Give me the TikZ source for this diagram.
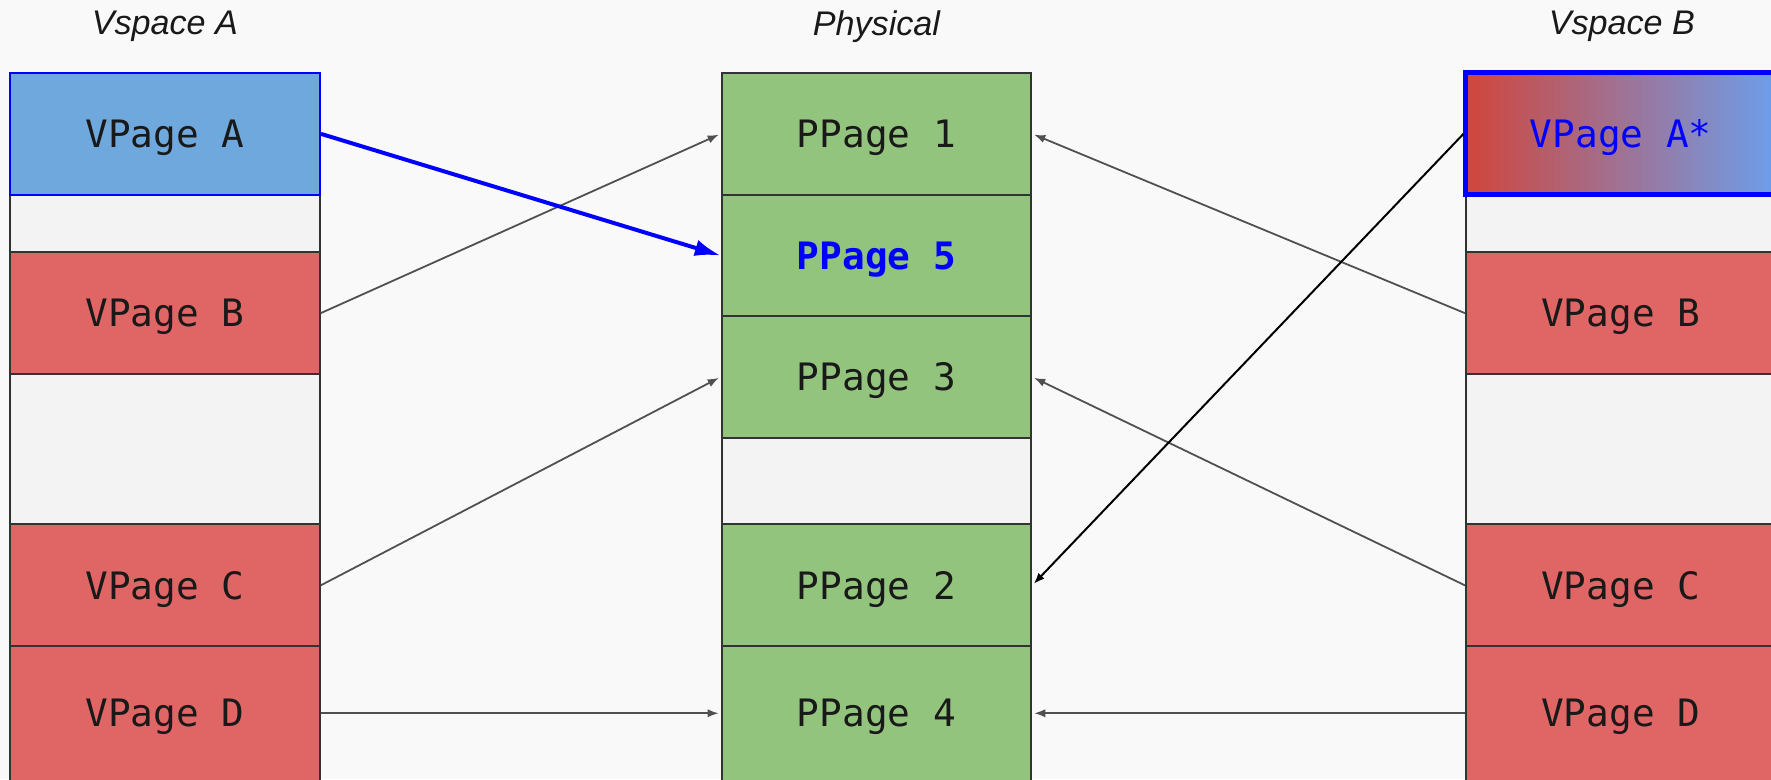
\documentclass[tikz,border=0pt]{standalone}
\usepackage{fontspec}
\setmainfont{Liberation Sans}
\setmonofont{DejaVu Sans Mono}
\usetikzlibrary{arrows.meta}
\definecolor{bgpage}{HTML}{F9F9F9}
\definecolor{freepage}{HTML}{F3F3F3}
\definecolor{vpagered}{HTML}{E06666}
\definecolor{vpageblue}{HTML}{6FA8DC}
\definecolor{ppagegreen}{HTML}{93C47D}
\definecolor{cowred}{HTML}{D0463C}
\definecolor{cowblue}{HTML}{6D9EEB}
\definecolor{maparrow}{HTML}{505050}
\definecolor{cowline}{HTML}{0000FF}
\begin{document}
\begin{tikzpicture}[x=0.01cm, y=-0.01cm, >={Latex[length=2.8pt,width=2.1pt]},
  page/.style={draw=black!80, line width=0.5pt, minimum width=2.74cm, minimum height=1.08cm,
    inner sep=0pt, text height=6.9pt, text depth=0pt,
    font=\fontsize{9.5}{11}\selectfont\ttfamily, text=black!90},
  free/.style={page, fill=freepage},
  vred/.style={page, fill=vpagered},
  ppage/.style={page, fill=ppagegreen},
  map/.style={->, draw=maparrow, line width=0.45pt, shorten >=0.5pt},
  title/.style={font=\fontsize{8.6}{10}\selectfont\itshape, text=black!90}]
  \useasboundingbox (0, 0) rectangle (1568, 690);
  \clip (0, 0) rectangle (1568, 690);
  \fill[bgpage] (0, 0) rectangle (1568, 690);
  % titles
  \node[title] (tA) at (146, 23.5) {Vspace A};
  \node[title] (tP) at (776, 23.5) {Physical};
  \node[title] (tB) at (1436, 23.5) {Vspace B};
  % vspace A
  \node[free, minimum height=0.51cm] (gA1) at (146, 198) {};
  \node[vred] (vB) at (146, 277.25) {VPage B};
  \node[free, minimum height=1.335cm] (gA2) at (146, 397.75) {};
  \node[vred] (vC) at (146, 518.25) {VPage C};
  \node[vred, minimum height=1.19cm] (vD) at (146, 631.5) {VPage D};
  \node[page, fill=vpageblue, draw=cowline, line width=0.6pt] (vA) at (146, 118.5) {VPage A};
  % physical
  \node[ppage] (p1) at (776, 118.5) {PPage 1};
  \node[ppage, text=cowline, font=\fontsize{9.5}{11}\selectfont\ttfamily\bfseries] (p5) at (776, 226.25) {PPage 5};
  \node[ppage] (p3) at (776, 333.75) {PPage 3};
  \node[free, minimum height=0.77cm] (gP) at (776, 426) {};
  \node[ppage] (p2) at (776, 518.25) {PPage 2};
  \node[ppage, minimum height=1.19cm] (p4) at (776, 631.5) {PPage 4};
  % vspace B
  \node[free, minimum height=0.51cm] (gB1) at (1435, 198) {};
  \node[vred] (rB) at (1435, 277.25) {VPage B};
  \node[free, minimum height=1.335cm] (gB2) at (1435, 397.75) {};
  \node[vred] (rC) at (1435, 518.25) {VPage C};
  \node[vred, minimum height=1.19cm] (rD) at (1435, 631.5) {VPage D};
  \node[page, left color=cowred, right color=cowblue, draw=cowline, line width=1.25pt, text=cowline] (rA) at (1435, 118.5) {VPage A*};
  % mappings
  \draw[map] (vB.east) -- (p1.west);
  \draw[map] (vC.east) -- (p3.west);
  \draw[map] (vD.east) -- (p4.west);
  \draw[map] (rB.west) -- (p1.east);
  \draw[map] (rC.west) -- (p3.east);
  \draw[map] (rD.west) -- (p4.east);
  \draw[->, black, line width=0.5pt, shorten >=0.5pt] (rA.west) -- (p2.east);
  \draw[-{Latex[length=6.5pt,width=4.2pt]}, cowline, line width=1pt] (vA.east) -- (p5.west);
\end{tikzpicture}
\end{document}
